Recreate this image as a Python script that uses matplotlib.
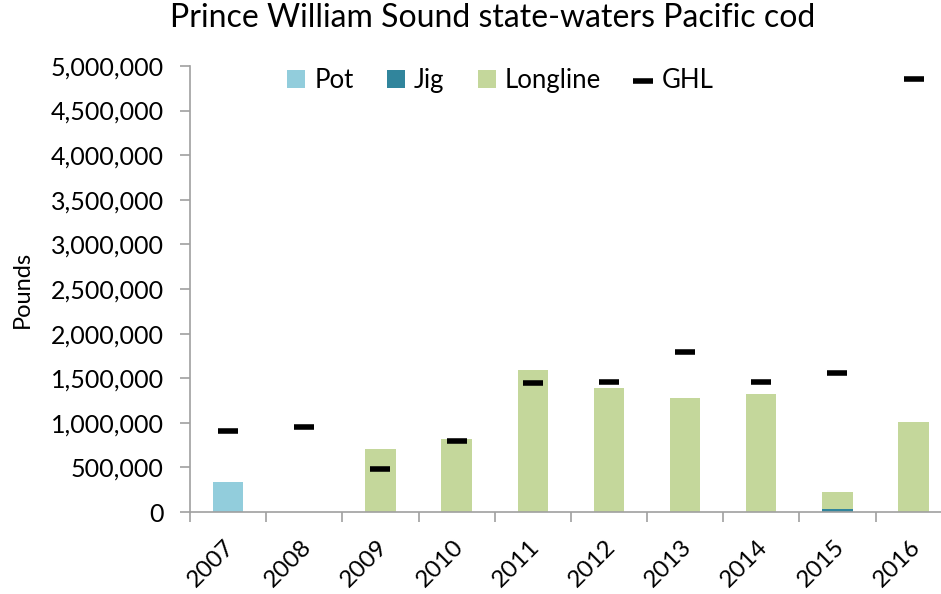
import matplotlib.pyplot as plt
import matplotlib.transforms as mtransforms
import numpy as np
from matplotlib.ticker import FuncFormatter, FixedLocator

plt.rcParams['font.family'] = ['Lato', 'DejaVu Sans']

years = ['2007', '2008', '2009', '2010', '2011', '2012', '2013', '2014', '2015', '2016']
pot = [340000, 0, 0, 0, 0, 0, 0, 0, 0, 0]
jig = [0, 0, 0, 0, 0, 0, 0, 0, 30000, 0]
longline = [0, 0, 703000, 818000, 1588000, 1390000, 1274000, 1323000, 194000, 1009000]
ghl = [911000, 949000, 485000, 792000, 1443000, 1454000, 1790000, 1461000, 1562000, 4854000]

x = np.arange(len(years))
pot = np.array(pot)
jig = np.array(jig)
longline = np.array(longline)

fig = plt.figure(figsize=(9.41, 5.94), dpi=100)
ax = fig.add_axes([0.202, 0.138, 0.798, 0.751])

w = 0.4
b1 = ax.bar(x, pot, w, color='#92CDDC', label='Pot')
b2 = ax.bar(x, jig, w, bottom=pot, color='#31859C', label='Jig')
b3 = ax.bar(x, longline, w, bottom=pot + jig, color='#C4D79B', label='Longline')
g = ax.scatter(x, ghl, marker='_', s=210, linewidths=4, color='black', label='GHL', zorder=3)

ax.set_ylim(0, 5000000)
ax.set_xlim(-0.5, 9.36)
ax.set_yticks(np.arange(0, 5000001, 500000))
ax.yaxis.set_major_formatter(FuncFormatter(lambda v, p: f'{int(v):,}'))
ax.set_xticks(x)
ax.set_xticklabels(years, rotation=45, ha='right', rotation_mode='anchor')
ax.xaxis.set_minor_locator(FixedLocator(np.arange(-0.5, 10, 1)))
ax.tick_params(axis='x', which='major', length=0, labelsize=17.5, pad=17)
ax.tick_params(axis='x', which='minor', length=7, color='#A0A0A0', width=1.2)
ax.tick_params(axis='y', length=7, color='#A0A0A0', width=1.2, labelsize=18, pad=12)

shift = mtransforms.ScaledTranslation(-4 / 100, 0, fig.dpi_scale_trans)
for lab in ax.get_xticklabels():
    lab.set_transform(lab.get_transform() + shift)

for s in ['top', 'right']:
    ax.spines[s].set_visible(False)
for s in ['left', 'bottom']:
    ax.spines[s].set_color('#A0A0A0')
    ax.spines[s].set_linewidth(1.2)

ax.set_ylabel('Pounds', fontsize=17, va='center')
ax.yaxis.set_label_coords(-0.224, 0.5)
fig.text(0.523, 0.995, 'Prince William Sound state-waters Pacific cod', fontsize=23,
         ha='center', va='top')

ax.legend([b1, b2, b3, g], ['Pot', 'Jig', 'Longline', 'GHL'],
          loc='center', bbox_to_anchor=(0.413, 0.968), ncol=4, frameon=False,
          fontsize=18.5, handlelength=0.7, handleheight=0.7, handletextpad=0.35,
          columnspacing=1.3, borderpad=0)

fig.savefig('out.png', dpi=100)
